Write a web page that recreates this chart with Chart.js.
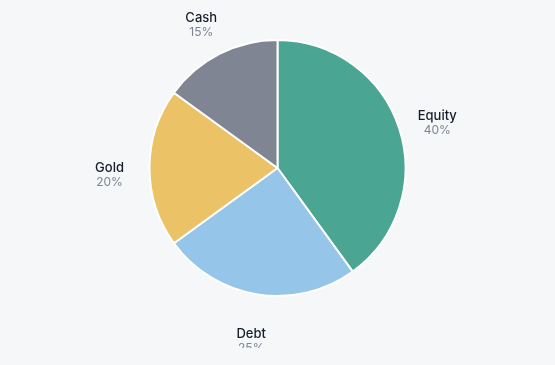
<!DOCTYPE html>
<html>
<head>
<meta charset="utf-8">
<script src="https://cdn.jsdelivr.net/npm/chart.js@4"></script>
<style>
  html, body { margin: 0; padding: 0; background: #f6f7f9; }
  #wrap { width: 555px; height: 365px; }
</style>
</head>
<body>
<div id="wrap"><canvas id="alloc"></canvas></div>
<script>
const labels = ['Equity', 'Debt', 'Gold', 'Cash'];
const shares = [40, 25, 20, 15];
const colors = ['#4aa692', '#95c5e8', '#ebc266', '#808593'];

// draws name + percent outside each slice
const outsideLabels = {
  id: 'outsideLabels',
  afterDatasetsDraw(chart) {
    const ctx = chart.ctx;
    const arcs = chart.getDatasetMeta(0).data;
    ctx.save();
    // the original panel cuts off just below the bottom label
    ctx.beginPath();
    ctx.rect(0, 0, chart.width, 348);
    ctx.clip();
    ctx.textAlign = 'center';
    ctx.textBaseline = 'middle';
    arcs.forEach((arc, i) => {
      const mid = (arc.startAngle + arc.endAngle) / 2;
      const d = arc.outerRadius + 40;
      const x = arc.x + Math.cos(mid) * d;
      const y = arc.y + Math.sin(mid) * d;
      ctx.font = '500 13px Inter, "Noto Sans", sans-serif';
      ctx.fillStyle = '#161d2b';
      ctx.fillText(labels[i], x, y);
      ctx.font = '12px Inter, "Noto Sans", sans-serif';
      ctx.fillStyle = '#7d8594';
      ctx.fillText(shares[i] + '%', x, y + 14);
    });
    ctx.restore();
  }
};

new Chart(document.getElementById('alloc'), {
  type: 'pie',
  data: {
    labels: labels,
    datasets: [{
      data: shares,
      backgroundColor: colors,
      borderColor: '#ffffff',
      borderWidth: 2
    }]
  },
  options: {
    responsive: true,
    maintainAspectRatio: false,
    animation: false,
    events: [],
    layout: { padding: { top: 39, bottom: 68, left: 0, right: 0 } },
    plugins: {
      legend: { display: false },
      tooltip: { enabled: false }
    }
  },
  plugins: [outsideLabels]
});
</script>
</body>
</html>
